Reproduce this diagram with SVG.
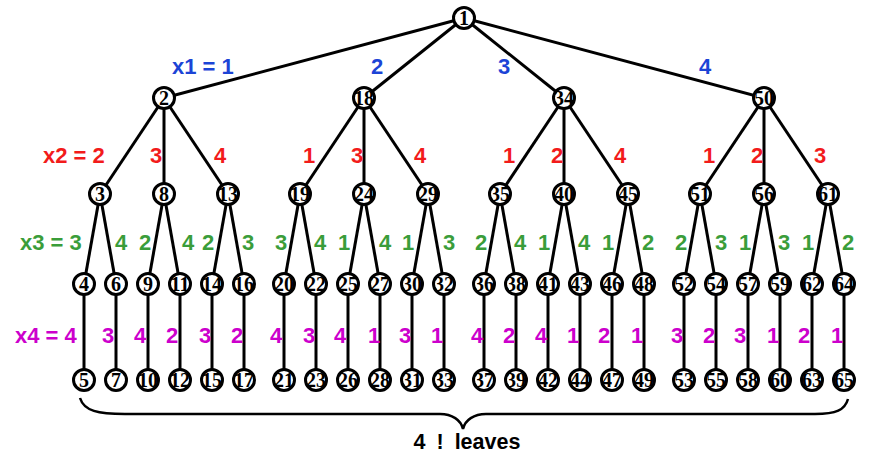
<svg xmlns="http://www.w3.org/2000/svg" width="872" height="471" viewBox="0 0 872 471">
<style>
.e{stroke:#000;stroke-width:3;fill:none}
.n circle{fill:#fff;stroke:#000;stroke-width:3}
.n text{font-family:"Liberation Serif","Times New Roman",serif;font-size:20px;font-weight:bold;text-anchor:middle;fill:#000}
.l{font-family:"Liberation Sans",Arial,sans-serif;font-size:22px;font-weight:bold;text-anchor:middle}
.b{fill:#1c44d6}.r{fill:#f21b1b}.g{fill:#3a9d3a}.m{fill:#cc00cc}
</style>
<rect width="872" height="471" fill="#fff"/>
<g id="connectors" class="e">
<line x1="464" y1="18" x2="164" y2="98"/><line x1="464" y1="18" x2="364" y2="98"/><line x1="464" y1="18" x2="564" y2="98"/><line x1="464" y1="18" x2="764" y2="98"/>
<line x1="164" y1="98" x2="100" y2="194"/><line x1="164" y1="98" x2="164" y2="194"/><line x1="164" y1="98" x2="228" y2="194"/>
<line x1="364" y1="98" x2="300" y2="194"/><line x1="364" y1="98" x2="364" y2="194"/><line x1="364" y1="98" x2="428" y2="194"/>
<line x1="564" y1="98" x2="500" y2="194"/><line x1="564" y1="98" x2="564" y2="194"/><line x1="564" y1="98" x2="628" y2="194"/>
<line x1="764" y1="98" x2="700" y2="194"/><line x1="764" y1="98" x2="764" y2="194"/><line x1="764" y1="98" x2="828" y2="194"/>
<line x1="100" y1="194" x2="84" y2="284"/><line x1="100" y1="194" x2="116" y2="284"/>
<line x1="164" y1="194" x2="148" y2="284"/><line x1="164" y1="194" x2="180" y2="284"/>
<line x1="228" y1="194" x2="212" y2="284"/><line x1="228" y1="194" x2="244" y2="284"/>
<line x1="300" y1="194" x2="284" y2="284"/><line x1="300" y1="194" x2="316" y2="284"/>
<line x1="364" y1="194" x2="348" y2="284"/><line x1="364" y1="194" x2="380" y2="284"/>
<line x1="428" y1="194" x2="412" y2="284"/><line x1="428" y1="194" x2="444" y2="284"/>
<line x1="500" y1="194" x2="484" y2="284"/><line x1="500" y1="194" x2="516" y2="284"/>
<line x1="564" y1="194" x2="548" y2="284"/><line x1="564" y1="194" x2="580" y2="284"/>
<line x1="628" y1="194" x2="612" y2="284"/><line x1="628" y1="194" x2="644" y2="284"/>
<line x1="700" y1="194" x2="684" y2="284"/><line x1="700" y1="194" x2="716" y2="284"/>
<line x1="764" y1="194" x2="748" y2="284"/><line x1="764" y1="194" x2="780" y2="284"/>
<line x1="828" y1="194" x2="812" y2="284"/><line x1="828" y1="194" x2="844" y2="284"/>
<line x1="84" y1="284" x2="84" y2="380"/><line x1="116" y1="284" x2="116" y2="380"/><line x1="148" y1="284" x2="148" y2="380"/><line x1="180" y1="284" x2="180" y2="380"/><line x1="212" y1="284" x2="212" y2="380"/><line x1="244" y1="284" x2="244" y2="380"/>
<line x1="284" y1="284" x2="284" y2="380"/><line x1="316" y1="284" x2="316" y2="380"/><line x1="348" y1="284" x2="348" y2="380"/><line x1="380" y1="284" x2="380" y2="380"/><line x1="412" y1="284" x2="412" y2="380"/><line x1="444" y1="284" x2="444" y2="380"/>
<line x1="484" y1="284" x2="484" y2="380"/><line x1="516" y1="284" x2="516" y2="380"/><line x1="548" y1="284" x2="548" y2="380"/><line x1="580" y1="284" x2="580" y2="380"/><line x1="612" y1="284" x2="612" y2="380"/><line x1="644" y1="284" x2="644" y2="380"/>
<line x1="684" y1="284" x2="684" y2="380"/><line x1="716" y1="284" x2="716" y2="380"/><line x1="748" y1="284" x2="748" y2="380"/><line x1="780" y1="284" x2="780" y2="380"/><line x1="812" y1="284" x2="812" y2="380"/><line x1="844" y1="284" x2="844" y2="380"/>
</g>
<g id="nodes" class="n">
<g id="n1"><circle cx="464" cy="18" r="10.5"/><text x="464" y="25">1</text></g>
<g id="n2"><circle cx="164" cy="98" r="10.5"/><text x="164" y="105">2</text></g>
<g id="n18"><circle cx="364" cy="98" r="10.5"/><text x="364" y="105">18</text></g>
<g id="n34"><circle cx="564" cy="98" r="10.5"/><text x="564" y="105">34</text></g>
<g id="n50"><circle cx="764" cy="98" r="10.5"/><text x="764" y="105">50</text></g>
<g id="n3"><circle cx="100" cy="194" r="10.5"/><text x="100" y="201">3</text></g>
<g id="n8"><circle cx="164" cy="194" r="10.5"/><text x="164" y="201">8</text></g>
<g id="n13"><circle cx="228" cy="194" r="10.5"/><text x="228" y="201">13</text></g>
<g id="n19"><circle cx="300" cy="194" r="10.5"/><text x="300" y="201">19</text></g>
<g id="n24"><circle cx="364" cy="194" r="10.5"/><text x="364" y="201">24</text></g>
<g id="n29"><circle cx="428" cy="194" r="10.5"/><text x="428" y="201">29</text></g>
<g id="n35"><circle cx="500" cy="194" r="10.5"/><text x="500" y="201">35</text></g>
<g id="n40"><circle cx="564" cy="194" r="10.5"/><text x="564" y="201">40</text></g>
<g id="n45"><circle cx="628" cy="194" r="10.5"/><text x="628" y="201">45</text></g>
<g id="n51"><circle cx="700" cy="194" r="10.5"/><text x="700" y="201">51</text></g>
<g id="n56"><circle cx="764" cy="194" r="10.5"/><text x="764" y="201">56</text></g>
<g id="n61"><circle cx="828" cy="194" r="10.5"/><text x="828" y="201">61</text></g>
<g id="n4"><circle cx="84" cy="284" r="10.5"/><text x="84" y="291">4</text></g>
<g id="n6"><circle cx="116" cy="284" r="10.5"/><text x="116" y="291">6</text></g>
<g id="n9"><circle cx="148" cy="284" r="10.5"/><text x="148" y="291">9</text></g>
<g id="n11"><circle cx="180" cy="284" r="10.5"/><text x="180" y="291">11</text></g>
<g id="n14"><circle cx="212" cy="284" r="10.5"/><text x="212" y="291">14</text></g>
<g id="n16"><circle cx="244" cy="284" r="10.5"/><text x="244" y="291">16</text></g>
<g id="n20"><circle cx="284" cy="284" r="10.5"/><text x="284" y="291">20</text></g>
<g id="n22"><circle cx="316" cy="284" r="10.5"/><text x="316" y="291">22</text></g>
<g id="n25"><circle cx="348" cy="284" r="10.5"/><text x="348" y="291">25</text></g>
<g id="n27"><circle cx="380" cy="284" r="10.5"/><text x="380" y="291">27</text></g>
<g id="n30"><circle cx="412" cy="284" r="10.5"/><text x="412" y="291">30</text></g>
<g id="n32"><circle cx="444" cy="284" r="10.5"/><text x="444" y="291">32</text></g>
<g id="n36"><circle cx="484" cy="284" r="10.5"/><text x="484" y="291">36</text></g>
<g id="n38"><circle cx="516" cy="284" r="10.5"/><text x="516" y="291">38</text></g>
<g id="n41"><circle cx="548" cy="284" r="10.5"/><text x="548" y="291">41</text></g>
<g id="n43"><circle cx="580" cy="284" r="10.5"/><text x="580" y="291">43</text></g>
<g id="n46"><circle cx="612" cy="284" r="10.5"/><text x="612" y="291">46</text></g>
<g id="n48"><circle cx="644" cy="284" r="10.5"/><text x="644" y="291">48</text></g>
<g id="n52"><circle cx="684" cy="284" r="10.5"/><text x="684" y="291">52</text></g>
<g id="n54"><circle cx="716" cy="284" r="10.5"/><text x="716" y="291">54</text></g>
<g id="n57"><circle cx="748" cy="284" r="10.5"/><text x="748" y="291">57</text></g>
<g id="n59"><circle cx="780" cy="284" r="10.5"/><text x="780" y="291">59</text></g>
<g id="n62"><circle cx="812" cy="284" r="10.5"/><text x="812" y="291">62</text></g>
<g id="n64"><circle cx="844" cy="284" r="10.5"/><text x="844" y="291">64</text></g>
<g id="n5"><circle cx="84" cy="380" r="10.5"/><text x="84" y="387">5</text></g>
<g id="n7"><circle cx="116" cy="380" r="10.5"/><text x="116" y="387">7</text></g>
<g id="n10"><circle cx="148" cy="380" r="10.5"/><text x="148" y="387">10</text></g>
<g id="n12"><circle cx="180" cy="380" r="10.5"/><text x="180" y="387">12</text></g>
<g id="n15"><circle cx="212" cy="380" r="10.5"/><text x="212" y="387">15</text></g>
<g id="n17"><circle cx="244" cy="380" r="10.5"/><text x="244" y="387">17</text></g>
<g id="n21"><circle cx="284" cy="380" r="10.5"/><text x="284" y="387">21</text></g>
<g id="n23"><circle cx="316" cy="380" r="10.5"/><text x="316" y="387">23</text></g>
<g id="n26"><circle cx="348" cy="380" r="10.5"/><text x="348" y="387">26</text></g>
<g id="n28"><circle cx="380" cy="380" r="10.5"/><text x="380" y="387">28</text></g>
<g id="n31"><circle cx="412" cy="380" r="10.5"/><text x="412" y="387">31</text></g>
<g id="n33"><circle cx="444" cy="380" r="10.5"/><text x="444" y="387">33</text></g>
<g id="n37"><circle cx="484" cy="380" r="10.5"/><text x="484" y="387">37</text></g>
<g id="n39"><circle cx="516" cy="380" r="10.5"/><text x="516" y="387">39</text></g>
<g id="n42"><circle cx="548" cy="380" r="10.5"/><text x="548" y="387">42</text></g>
<g id="n44"><circle cx="580" cy="380" r="10.5"/><text x="580" y="387">44</text></g>
<g id="n47"><circle cx="612" cy="380" r="10.5"/><text x="612" y="387">47</text></g>
<g id="n49"><circle cx="644" cy="380" r="10.5"/><text x="644" y="387">49</text></g>
<g id="n53"><circle cx="684" cy="380" r="10.5"/><text x="684" y="387">53</text></g>
<g id="n55"><circle cx="716" cy="380" r="10.5"/><text x="716" y="387">55</text></g>
<g id="n58"><circle cx="748" cy="380" r="10.5"/><text x="748" y="387">58</text></g>
<g id="n60"><circle cx="780" cy="380" r="10.5"/><text x="780" y="387">60</text></g>
<g id="n63"><circle cx="812" cy="380" r="10.5"/><text x="812" y="387">63</text></g>
<g id="n65"><circle cx="844" cy="380" r="10.5"/><text x="844" y="387">65</text></g>
</g>
<g id="labels-x1" class="l b">
<text x="172" y="74" text-anchor="start">x1 = 1</text>
<text x="377" y="74">2</text><text x="504" y="74">3</text><text x="705" y="74">4</text>
</g>
<g id="labels-x2" class="l r">
<text x="43" y="163" text-anchor="start">x2 = 2</text>
<text x="156" y="163">3</text><text x="220" y="163">4</text>
<text x="309" y="163">1</text><text x="357" y="163">3</text><text x="420" y="163">4</text>
<text x="509" y="163">1</text><text x="557" y="163">2</text><text x="620" y="163">4</text>
<text x="709" y="163">1</text><text x="757" y="163">2</text><text x="820" y="163">3</text>
</g>
<g id="labels-x3" class="l g">
<text x="20" y="250" text-anchor="start">x3 = 3</text>
<text x="121" y="250">4</text><text x="145" y="250">2</text><text x="188" y="250">4</text><text x="208" y="250">2</text><text x="248" y="250">3</text>
<text x="281" y="250">3</text><text x="320" y="250">4</text><text x="344" y="250">1</text><text x="385" y="250">4</text><text x="408" y="250">1</text><text x="449" y="250">3</text>
<text x="481" y="250">2</text><text x="520" y="250">4</text><text x="544" y="250">1</text><text x="584" y="250">4</text><text x="608" y="250">1</text><text x="648" y="250">2</text>
<text x="681" y="250">2</text><text x="721" y="250">3</text><text x="745" y="250">1</text><text x="784" y="250">3</text><text x="808" y="250">1</text><text x="848" y="250">2</text>
</g>
<g id="labels-x4" class="l m">
<text x="15" y="343" text-anchor="start">x4 = 4</text>
<text x="108" y="343">3</text><text x="140" y="343">4</text><text x="172" y="343">2</text><text x="205" y="343">3</text><text x="237" y="343">2</text>
<text x="276" y="343">4</text><text x="309" y="343">3</text><text x="340" y="343">4</text><text x="374" y="343">1</text><text x="405" y="343">3</text><text x="437" y="343">1</text>
<text x="477" y="343">4</text><text x="509" y="343">2</text><text x="541" y="343">4</text><text x="573" y="343">1</text><text x="604" y="343">2</text><text x="637" y="343">1</text>
<text x="677" y="343">3</text><text x="709" y="343">2</text><text x="740" y="343">3</text><text x="773" y="343">1</text><text x="804" y="343">2</text><text x="837" y="343">1</text>
</g>
<g id="brace">
<path d="M80,398 C84,411 98,414 125,414 L440,414 C452,414 461,420 463,429 C465,420 474,414 486,414 L815,414 C836,414 845,410 848,399" fill="none" stroke="#000" stroke-width="2.5"/>
<text x="467" y="449" font-family="'Liberation Sans',Arial,sans-serif" font-size="21.5" font-weight="bold" text-anchor="middle" word-spacing="5" fill="#000">4 ! leaves</text>
</g>
</svg>
